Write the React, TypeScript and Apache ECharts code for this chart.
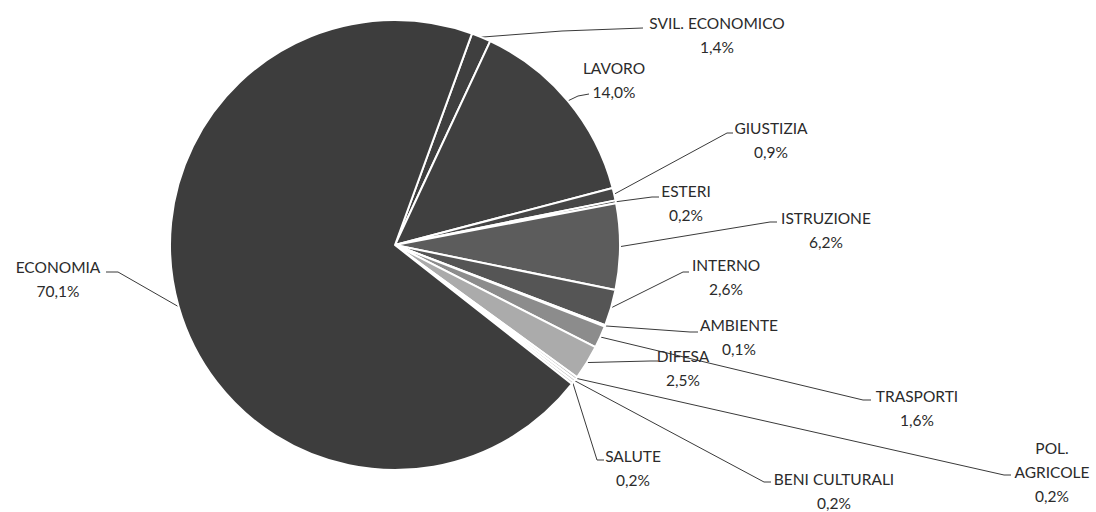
import React, { useEffect, useRef } from "react";
import * as echarts from "echarts";

// ---- data ----
const categories = [
  "SVIL. ECONOMICO",
  "LAVORO",
  "GIUSTIZIA",
  "ESTERI",
  "ISTRUZIONE",
  "INTERNO",
  "AMBIENTE",
  "TRASPORTI",
  "DIFESA",
  "POL. AGRICOLE",
  "BENI CULTURALI",
  "SALUTE",
  "ECONOMIA",
];
const shares = [1.4, 14.0, 0.9, 0.2, 6.2, 2.6, 0.1, 1.6, 2.5, 0.2, 0.2, 0.2, 70.1];

// ---- styles / layout ----
const sliceColors = [
  "#3f3f3f",
  "#404040",
  "#464646",
  "#505050",
  "#5c5c5c",
  "#555555",
  "#7d7d7d",
  "#8c8c8c",
  "#ababab",
  "#bdbdbd",
  "#c6c6c6",
  "#cfcfcf",
  "#3d3d3d",
];

// centre of each label block [x, y]
const labelCenters: [number, number][] = [
  [717, 35],
  [614, 80],
  [771, 140],
  [686, 203],
  [826, 230],
  [726, 277],
  [739, 337],
  [917, 408],
  [683, 368],
  [1052, 472],
  [834, 491],
  [633, 468],
  [58, 279],
];

// leader line bend and end points
const leaderTails: [number, number][][] = [
  [[562, 31], [643, 28]],
  [[578, 96], [589, 94]],
  [[727, 133], [733, 133]],
  [[652, 197], [659, 197]],
  [[770, 222], [777, 222]],
  [[683, 272], [689, 272]],
  [[690, 332], [698, 332]],
  [[863, 400], [871, 400]],
  [[650, 361], [658, 361]],
  [[1004, 475], [1011, 475]],
  [[764, 482], [771, 482]],
  [[597, 460], [604, 460]],
  [[118, 272], [106, 272]],
];

const CX = 395;
const CY = 245;
const R = 225;
const FIRST_ANGLE = 20; // degrees clockwise from 12 o'clock

const wrapNames: Record<string, string> = { "POL. AGRICOLE": "POL.\nAGRICOLE" };

function fmtPct(v: number) {
  return v.toFixed(1).replace(".", ",") + "%";
}

export default function App() {
  const ref = useRef<HTMLDivElement>(null);

  useEffect(() => {
    document.body.style.margin = "0";
    document.body.style.overflow = "hidden";
    if (!ref.current) return;
    const chart = echarts.init(ref.current, undefined, { renderer: "svg" });

    const total = shares.reduce((a, b) => a + b, 0);
    const startPoints: [number, number][] = [];
    let cum = 0;
    shares.forEach((v) => {
      const mid = FIRST_ANGLE + ((cum + v / 2) / total) * 360;
      const rad = (mid * Math.PI) / 180;
      startPoints.push([CX + R * Math.sin(rad), CY - R * Math.cos(rad)]);
      cum += v;
    });

    chart.setOption({
      animation: false,
      backgroundColor: "#ffffff",
      series: [
        {
          type: "pie",
          center: [CX, CY],
          radius: R,
          startAngle: 90 - FIRST_ANGLE,
          clockwise: true,
          avoidLabelOverlap: false,
          minShowLabelAngle: 0,
          itemStyle: { borderColor: "#ffffff", borderWidth: 2 },
          label: {
            show: true,
            position: "outside",
            fontFamily: "Lato, 'Open Sans', sans-serif",
            fontSize: 15.5,
            lineHeight: 24,
            color: "#2b2b2b",
            align: "center",
            formatter: (p: any) =>
              (wrapNames[p.name] ?? p.name) + "\n" + fmtPct(p.value),
          },
          labelLine: {
            show: true,
            lineStyle: { color: "#3a3a3a", width: 1 },
          },
          labelLayout: (params: any) => {
            const i = params.dataIndex;
            const c = labelCenters[i];
            return {
              x: c[0],
              y: c[1],
              align: "center",
              verticalAlign: "middle",
              labelLinePoints: [startPoints[i], leaderTails[i][0], leaderTails[i][1]],
            };
          },
          emphasis: { disabled: true },
          data: categories.map((name, i) => ({
            name,
            value: shares[i],
            itemStyle: { color: sliceColors[i] },
          })),
        },
      ],
    });

    return () => chart.dispose();
  }, []);

  return <div ref={ref} style={{ width: 1096, height: 512 }} />;
}
